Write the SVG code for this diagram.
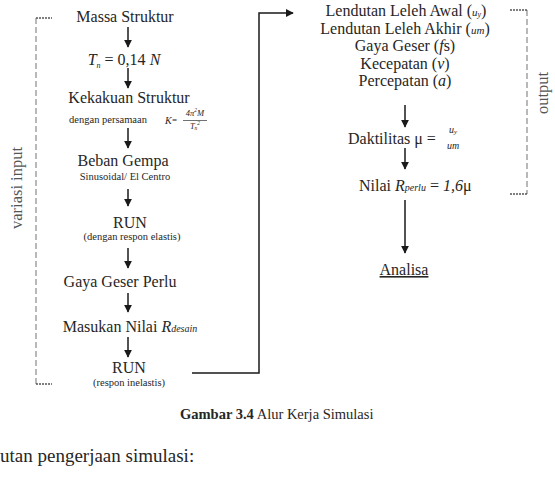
<svg xmlns="http://www.w3.org/2000/svg" width="555" height="478" viewBox="0 0 555 478">
<defs>
<style>
.t{font-family:"Liberation Serif","Times New Roman",serif;fill:#262626}
.m{font-size:16px;text-anchor:middle}
.s{font-size:10.5px;text-anchor:middle}
.i{font-style:italic}
.ln{stroke:#1a1a1a;stroke-width:1.5;fill:none}
.br{stroke:#8a8a8a;stroke-width:1.2;fill:none;stroke-dasharray:6 3}
.tk{stroke:#555;stroke-width:1.5;fill:none;stroke-dasharray:2 1}
.lab{font-size:16.5px;fill:#555;text-anchor:middle}
</style>
<marker id="ah" viewBox="0 0 10 10" refX="9" refY="5" markerWidth="8" markerHeight="8" markerUnits="userSpaceOnUse" orient="auto">
<path d="M0,0 L10,5 L0,10 Z" fill="#1a1a1a"/>
</marker>
</defs>
<rect width="555" height="478" fill="#fff"/>

<g id="bracket-input">
<line class="br" x1="36" y1="18" x2="36" y2="384"/>
<line class="tk" x1="36" y1="18" x2="52" y2="18"/>
<line class="tk" x1="36" y1="384" x2="52" y2="384"/>
<text class="t lab" transform="translate(22,188) rotate(-90)">variasi input</text>
</g>

<g id="bracket-output">
<line class="br" x1="527" y1="10" x2="527" y2="194"/>
<line class="tk" x1="510" y1="10" x2="527" y2="10"/>
<line class="tk" x1="510" y1="194" x2="527" y2="194"/>
<text class="t lab" transform="translate(548,93) rotate(-90)">output</text>
</g>

<g id="connectors">
<line class="ln" x1="128" y1="27" x2="128" y2="47" marker-end="url(#ah)"/>
<line class="ln" x1="128" y1="68" x2="128" y2="88" marker-end="url(#ah)"/>
<line class="ln" x1="128" y1="128" x2="128" y2="148" marker-end="url(#ah)"/>
<line class="ln" x1="128" y1="189" x2="128" y2="206" marker-end="url(#ah)"/>
<line class="ln" x1="128" y1="248" x2="128" y2="268" marker-end="url(#ah)"/>
<line class="ln" x1="128" y1="293" x2="128" y2="312" marker-end="url(#ah)"/>
<line class="ln" x1="128" y1="337" x2="128" y2="357" marker-end="url(#ah)"/>
<polyline class="ln" points="192,373 259,373 259,13 293,13" marker-end="url(#ah)"/>
<line class="ln" x1="405" y1="105" x2="405" y2="127" marker-end="url(#ah)"/>
<line class="ln" x1="405" y1="148" x2="405" y2="169" marker-end="url(#ah)"/>
<line class="ln" x1="405" y1="200" x2="405" y2="253" marker-end="url(#ah)"/>
</g>

<g id="massa"><text class="t m" x="125" y="22">Massa Struktur</text></g>
<g id="periode"><text class="t m" x="124" y="65"><tspan class="i">T</tspan><tspan font-size="8" dy="3" class="i">n</tspan><tspan dy="-3"> = 0,14 </tspan><tspan class="i">N</tspan></text></g>
<g id="kekakuan">
<text class="t m" x="129" y="103">Kekakuan Struktur</text>
<text class="t s" x="108" y="123" font-size="10">dengan persamaan</text>
<text class="t i" x="165" y="124" font-size="10">K</text>
<text class="t" x="172" y="123" font-size="9">=</text>
<text class="t i" x="195" y="116" font-size="8.5" text-anchor="middle">4π<tspan font-size="5.5" dy="-4">2</tspan><tspan dy="4">M</tspan></text>
<line x1="183" y1="120.5" x2="207" y2="120.5" stroke="#333" stroke-width="0.7"/>
<text class="t i" x="195" y="129" font-size="8.5" text-anchor="middle">T<tspan font-size="5.5" dy="1">n</tspan><tspan font-size="5.5" dy="-5">2</tspan></text>
</g>
<g id="beban">
<text class="t m" x="123" y="166">Beban Gempa</text>
<text class="t s" x="125" y="180">Sinusoidal/ El Centro</text>
</g>
<g id="run1">
<text class="t m" x="130" y="228">RUN</text>
<text class="t s" x="132" y="240">(dengan respon elastis)</text>
</g>
<g id="gaya-perlu"><text class="t m" x="120" y="287">Gaya Geser Perlu</text></g>
<g id="masukan"><text class="t m" x="130" y="332">Masukan Nilai <tspan class="i">R</tspan><tspan class="i" font-size="10">desain</tspan></text></g>
<g id="run2">
<text class="t m" x="129" y="373">RUN</text>
<text class="t s" x="129" y="386">(respon inelastis)</text>
</g>

<g id="output-list">
<text class="t m" x="406" y="16">Lendutan Leleh Awal (<tspan class="i" font-size="11">u<tspan font-size="8" dy="1">y</tspan></tspan><tspan dy="-1">)</tspan></text>
<text class="t m" x="405" y="33.5">Lendutan Leleh Akhir (<tspan class="i" font-size="11">um</tspan>)</text>
<text class="t m" x="405" y="51">Gaya Geser (<tspan class="i">f</tspan>s)</text>
<text class="t m" x="405" y="68.5">Kecepatan (<tspan class="i">v</tspan>)</text>
<text class="t m" x="405" y="86">Percepatan (<tspan class="i">a</tspan>)</text>
</g>
<g id="daktilitas">
<text class="t" x="348" y="144" font-size="16">Daktilitas  μ =</text>
<text class="t i" x="453" y="133" font-size="10" text-anchor="middle">u<tspan font-size="7" dy="1">y</tspan></text>
<text class="t i" x="453" y="149" font-size="10" text-anchor="middle">um</text>
</g>
<g id="nilai-r">
<text class="t" x="359" y="191" font-size="16">Nilai <tspan class="i">R</tspan><tspan class="i" font-size="10">perlu</tspan> = <tspan class="i">1,6</tspan>μ</text>
</g>
<g id="analisa">
<text class="t m" x="404" y="275" text-decoration="underline">Analisa</text>
</g>

<g id="caption">
<text class="t" x="180" y="419" font-size="14.5"><tspan font-weight="bold">Gambar 3.4</tspan> Alur Kerja Simulasi</text>
</g>
<text class="t" x="0" y="462" font-size="19">utan pengerjaan simulasi:</text>
</svg>
